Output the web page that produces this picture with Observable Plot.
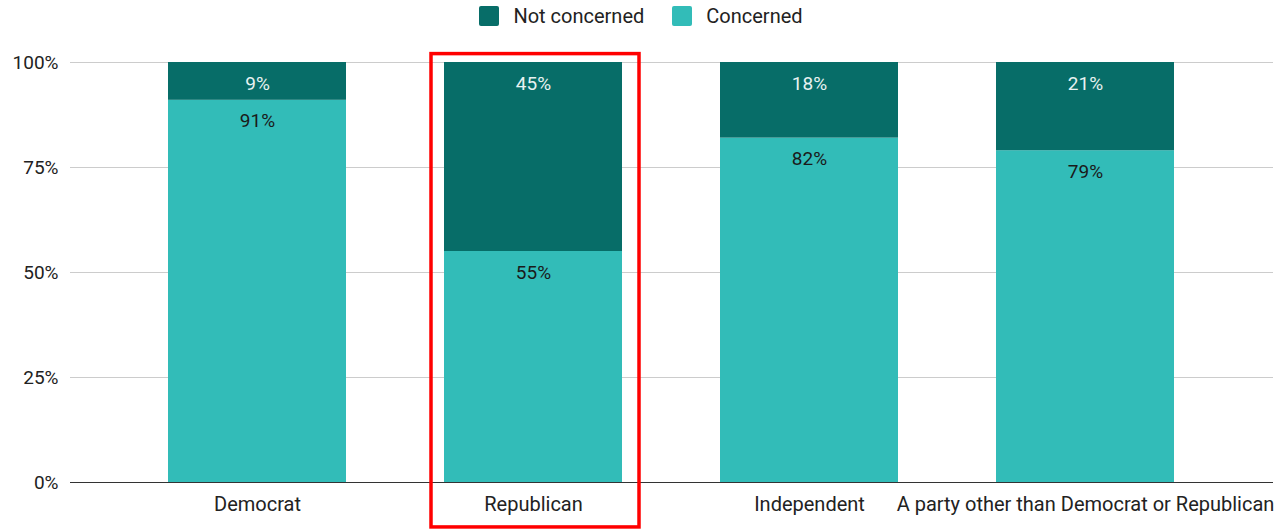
<!DOCTYPE html>
<html><head>
<meta charset="utf-8">
<script src="https://cdn.jsdelivr.net/npm/d3@7"></script>
<script src="https://cdn.jsdelivr.net/npm/@observablehq/plot@0.6"></script>
<style>
body{margin:0;background:#fff;font-family:Roboto,"Noto Sans",sans-serif;}
#legend{height:32px;display:flex;justify-content:center;align-items:center;gap:28px;font-size:20px;color:#222;padding-left:2px;box-sizing:border-box;}
#legend .item{display:flex;align-items:center;gap:14px;}
#legend .sw{width:20px;height:20px;border-radius:2px;}
</style>
</head><body>
<div id="legend"></div>
<div id="chart"></div>
<script>
const parties = ["Democrat", "Republican", "Independent", "A party other than Democrat or Republican"];
const concerned = [91, 55, 82, 79];
const notConcerned = [9, 45, 18, 21];
const seriesNames = ["Not concerned", "Concerned"];
const seriesColors = ["#076d68", "#32bcb8"];
const yTicks = [0, 25, 50, 75, 100];
const highlight = ["Republican"];

const rows = [];
parties.forEach((p, i) => {
  rows.push({party: p, series: "Concerned", value: concerned[i], top: concerned[i]});
  rows.push({party: p, series: "Not concerned", value: notConcerned[i], top: concerned[i] + notConcerned[i]});
});

const legend = document.getElementById("legend");
seriesNames.forEach((s, i) => {
  const it = document.createElement("div");
  it.className = "item";
  it.innerHTML = `<span class="sw" style="background:${seriesColors[i]}"></span><span>${s}</span>`;
  legend.appendChild(it);
});

const order = ["Concerned", "Not concerned"];
const chart = Plot.plot({
  width: 1280,
  height: 497,
  marginLeft: 70,
  marginRight: 7,
  marginTop: 30,
  marginBottom: 47,
  style: {fontFamily: "Roboto, sans-serif", color: "#222", background: "#fff"},
  x: {domain: parties, range: [117.5, 1224.5], paddingInner: 0.354, paddingOuter: 0.177, label: null},
  y: {domain: [0, 100], label: null},
  color: {domain: seriesNames, range: seriesColors},
  marks: [
    Plot.gridY({ticks: yTicks, stroke: "#cccccc", strokeOpacity: 1}),
    Plot.axisY({ticks: yTicks, tickFormat: d => d + "%", tickSize: 0, tickPadding: 12, fontSize: 19, label: null}),
    Plot.axisX({tickSize: 0, tickPadding: 14, fontSize: 20, label: null}),
    Plot.barY(rows, {x: "party", y: "value", fill: "series", z: "series", order}),
    Plot.text(rows.filter(d => d.series === "Not concerned"), {x: "party", y: "top", text: d => d.value + "%", dy: 21, fill: "#e8f2f1", fontSize: 19}),
    Plot.text(rows.filter(d => d.series === "Concerned"), {x: "party", y: "top", text: d => d.value + "%", dy: 21, fill: "#1a1a1a", fontSize: 19}),
    Plot.ruleY([0], {stroke: "#333", strokeWidth: 1.2}),
    Plot.barY(highlight, {x: d => d, y1: -10.7, y2: 102, insetLeft: -13, insetRight: -17, fill: "none", stroke: "#ff0000", strokeWidth: 3.5})
  ]
});
document.getElementById("chart").appendChild(chart);
</script>
</body></html>
